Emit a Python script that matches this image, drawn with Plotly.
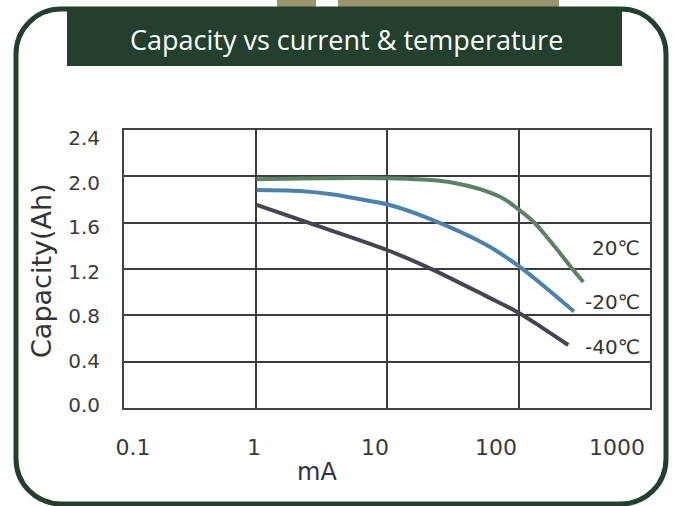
import plotly.graph_objects as go

# ---------------- data ----------------
current_20 = [1.02, 10, 31.9, 72.3, 100, 129.8, 163.8, 207, 261, 311]
cap_20 = [1.974, 1.983, 1.945, 1.824, 1.715, 1.608, 1.479, 1.336, 1.191, 1.088]

current_m20 = [1.02, 2.18, 3.91, 6.24, 10, 21.2, 57.2, 100, 184, 264]
cap_m20 = [1.882, 1.873, 1.843, 1.802, 1.759, 1.633, 1.407, 1.226, 0.984, 0.833]

current_m40 = [1.02, 2.52, 10, 21.2, 57.2, 100, 154, 239]
cap_m40 = [1.753, 1.6, 1.364, 1.206, 0.964, 0.823, 0.688, 0.544]

series_names = ["20℃", "-20℃", "-40℃"]
x_tick_vals = [0.1, 1, 10, 100, 1000]
x_tick_text = ["0.1", "1", "10", "100", "1000"]
y_tick_vals = [0.0, 0.4, 0.8, 1.2, 1.6, 2.0, 2.4]
y_tick_text = ["0.0", "0.4", "0.8", "1.2", "1.6", "2.0", "2.4"]

title_text = "Capacity vs current & temperature"
x_title = "mA"
y_title = "Capacity(Ah)"

# ---------------- layout geometry ----------------
W, H = 677, 506
L, R, T, B = 124, 650, 130, 408  # plot area in pixels


def px(x):
    return (x - L) / (R - L)


def py(y):
    return (B - y) / (B - T)


colors = ["#5b8166", "#4a81ad", "#47444f"]
tick_color = "#3a3a3a"
dark_green = "#233f2e"
tan = "#9b956c"

fig = go.Figure()
for xs, ys, c, n in zip([current_20, current_m20, current_m40],
                        [cap_20, cap_m20, cap_m40], colors, series_names):
    fig.add_trace(go.Scatter(x=xs, y=ys, mode="lines", name=n,
                             line=dict(color=c, width=4, shape="spline", smoothing=1.0),
                             showlegend=False, hoverinfo="skip"))

# invisible trace to anchor the label axes
fig.add_trace(go.Scatter(x=[1], y=[1], xaxis="x2", yaxis="y2", mode="markers",
                         marker=dict(opacity=0), showlegend=False, hoverinfo="skip"))

fig.update_layout(
    width=W, height=H, autosize=False,
    margin=dict(l=L, r=W - R, t=T, b=H - B, pad=0),
    paper_bgcolor="white", plot_bgcolor="white",
    xaxis=dict(type="log", range=[-1, 3], tickvals=x_tick_vals, showticklabels=False,
               showgrid=True, gridcolor="#3c3c3c", gridwidth=1.5,
               showline=True, linecolor="#444", linewidth=2, mirror=True,
               ticks="", zeroline=False, fixedrange=True),
    yaxis=dict(range=[0, 2.4], tickvals=y_tick_vals, showticklabels=False,
               showgrid=True, gridcolor="#3c3c3c", gridwidth=1.5,
               showline=True, linecolor="#444", linewidth=2, mirror=True,
               ticks="", zeroline=False, fixedrange=True),
    xaxis2=dict(type="log", overlaying="x", side="bottom",
                range=[-1.0744, 3.2727], tickvals=x_tick_vals, ticktext=x_tick_text,
                showgrid=False, showline=False, zeroline=False, ticks="",
                ticklabelstandoff=24, fixedrange=True,
                tickfont=dict(family="DejaVu Sans", size=22, color=tick_color)),
    yaxis2=dict(overlaying="y", side="left",
                range=[-0.027, 2.4747], tickvals=y_tick_vals, ticktext=y_tick_text,
                showgrid=False, showline=False, zeroline=False, ticks="",
                ticklabelstandoff=23, fixedrange=True,
                tickfont=dict(family="DejaVu Sans", size=20, color=tick_color)),
)

# ---------------- decorative frame ----------------
shapes = []
for x0, x1 in [(277, 316), (338, 559)]:
    shapes.append(dict(type="rect", xref="paper", yref="paper",
                       x0=px(x0), x1=px(x1), y0=py(0), y1=py(8),
                       fillcolor=tan, line=dict(width=0), layer="below"))
shapes.append(dict(type="rect", xref="paper", yref="paper",
                   x0=px(67), x1=px(622), y0=py(9), y1=py(66),
                   fillcolor=dark_green, line=dict(width=0)))

# rounded border
bx0, bx1, by0, by1, rad = 16, 666, 9, 504, 45
k = 0.5523 * rad


def P(x, y):
    return f"{px(x):.5f},{py(y):.5f}"


path = (f"M {P(bx0 + rad, by0)} L {P(bx1 - rad, by0)} "
        f"C {P(bx1 - rad + k, by0)} {P(bx1, by0 + rad - k)} {P(bx1, by0 + rad)} "
        f"L {P(bx1, by1 - rad)} "
        f"C {P(bx1, by1 - rad + k)} {P(bx1 - rad + k, by1)} {P(bx1 - rad, by1)} "
        f"L {P(bx0 + rad, by1)} "
        f"C {P(bx0 + rad - k, by1)} {P(bx0, by1 - rad + k)} {P(bx0, by1 - rad)} "
        f"L {P(bx0, by0 + rad)} "
        f"C {P(bx0, by0 + rad - k)} {P(bx0 + rad - k, by0)} {P(bx0 + rad, by0)} Z")
shapes.append(dict(type="path", xref="paper", yref="paper", path=path,
                   line=dict(color=dark_green, width=5), fillcolor="rgba(0,0,0,0)"))
fig.update_layout(shapes=shapes)

# ---------------- texts ----------------
annotations = [
    dict(text=title_text, xref="paper", yref="paper", x=px(346), y=py(39),
         xanchor="center", yanchor="middle", showarrow=False,
         font=dict(family="Open Sans", size=27, color="white")),
    dict(text=x_title, xref="paper", yref="paper", x=px(317), y=py(472),
         xanchor="center", yanchor="middle", showarrow=False,
         font=dict(family="DejaVu Sans", size=24, color="#333")),
    dict(text=y_title, xref="paper", yref="paper", x=px(41), y=py(271),
         xanchor="center", yanchor="middle", showarrow=False, textangle=-90,
         font=dict(family="DejaVu Sans", size=27, color="#333")),
]
for name, ylab in zip(series_names, [248, 302, 347]):
    annotations.append(dict(text=name, xref="paper", yref="paper", x=px(642), y=py(ylab),
                            xanchor="right", yanchor="middle", showarrow=False,
                            font=dict(family="DejaVu Sans", size=20, color="#333")))
fig.update_layout(annotations=annotations)

fig.write_html("out.html", config={"displayModeBar": False},
               post_script="document.body.style.margin='0px';")
